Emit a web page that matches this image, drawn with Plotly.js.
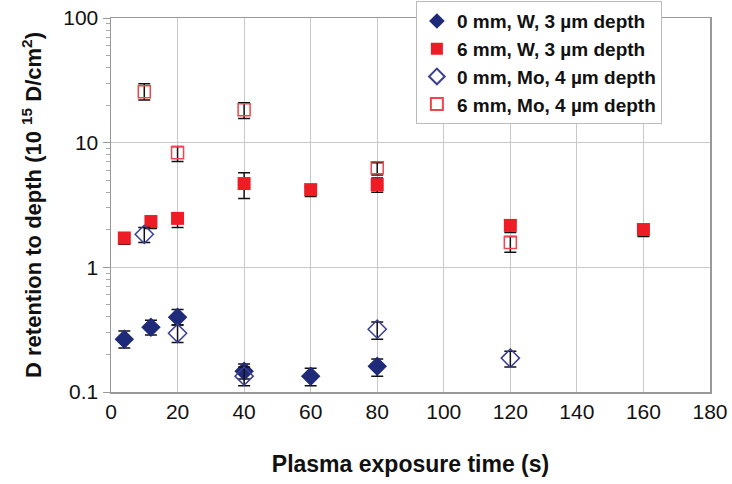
<!DOCTYPE html>
<html><head><meta charset="utf-8">
<script src="https://cdn.plot.ly/plotly-3.0.1.min.js"></script>
<style>html,body{margin:0;padding:0;background:#fff}#chart{width:732px;height:484px}</style>
</head><body><div id="chart"></div>
<script>
// 0 mm, W, 3 µm depth
const w0X = [4, 12, 20, 40, 60, 80];
const w0Y = [0.265, 0.331, 0.398, 0.147, 0.134, 0.161];
const w0Plus = [0.043, 0.046, 0.062, 0.021, 0.021, 0.023];
const w0Minus = [0.040, 0.045, 0.054, 0.020, 0.022, 0.027];
// 6 mm, W, 3 µm depth
const w6X = [4, 12, 20, 40, 60, 80, 120, 160];
const w6Y = [1.72, 2.33, 2.47, 4.7, 4.2, 4.6, 2.17, 2.01];
const w6Plus = [0.10, 0.10, 0.15, 1.05, 0.20, 0.60, 0.15, 0.10];
const w6Minus = [0.19, 0.28, 0.38, 1.13, 0.50, 0.60, 0.27, 0.24];
// 0 mm, Mo, 4 µm depth
const mo0X = [10, 20, 40, 80, 120];
const mo0Y = [1.84, 0.296, 0.134, 0.319, 0.187];
const mo0Plus = [0.25, 0.048, 0.025, 0.045, 0.025];
const mo0Minus = [0.26, 0.046, 0.022, 0.054, 0.028];
// 6 mm, Mo, 4 µm depth
const mo6X = [10, 20, 40, 80, 120];
const mo6Y = [25.6, 8.3, 18.4, 6.3, 1.58];
const mo6Plus = [4.1, 1.0, 2.5, 0.6, 0.19];
const mo6Minus = [3.6, 1.25, 2.8, 0.8, 0.26];

const names = ['0 mm, W, 3 µm depth', '6 mm, W, 3 µm depth', '0 mm, Mo, 4 µm depth', '6 mm, Mo, 4 µm depth'];
const xTickVals = [0, 20, 40, 60, 80, 100, 120, 140, 160, 180];
const yTickVals = [0.1, 1, 10, 100];
const yTickText = ['0.1', '1', '10', '100'];
const yMinorVals = [0.2, 0.3, 0.4, 0.5, 0.6, 0.7, 0.8, 0.9, 2, 3, 4, 5, 6, 7, 8, 9, 20, 30, 40, 50, 60, 70, 80, 90];

const NAVY = '#1f2a78', RED = '#ee1c25';
function err(plus, minus) {
  return {type: 'data', symmetric: false, array: plus, arrayminus: minus,
          color: '#111', thickness: 1.5, width: 6};
}
const traces = [
  {x: w0X, y: w0Y, name: names[0], type: 'scatter', mode: 'markers',
   marker: {symbol: 'diamond', size: 15, color: NAVY, line: {width: 0}},
   error_y: err(w0Plus, w0Minus)},
  {x: w6X, y: w6Y, name: names[1], type: 'scatter', mode: 'markers',
   marker: {symbol: 'square', size: 13, color: RED, line: {width: 0}},
   error_y: err(w6Plus, w6Minus)},
  {x: mo0X, y: mo0Y, name: names[2], type: 'scatter', mode: 'markers',
   marker: {symbol: 'diamond-open', size: 14, color: '#3a3f8f', line: {width: 1.5}},
   error_y: err(mo0Plus, mo0Minus)},
  {x: mo6X, y: mo6Y, name: names[3], type: 'scatter', mode: 'markers',
   marker: {symbol: 'square-open', size: 12, color: '#f0454c', line: {width: 1.5}},
   error_y: err(mo6Plus, mo6Minus)}
];
const FONT = 'Liberation Sans, Arial, sans-serif';
const layout = {
  width: 732, height: 484,
  margin: {l: 111, r: 22, t: 18, b: 92, autoexpand: false},
  paper_bgcolor: '#fff', plot_bgcolor: '#fff',
  font: {family: FONT, color: '#111'},
  showlegend: true,
  legend: {x: 0.509, y: 1.045, xanchor: 'left', yanchor: 'top',
           bgcolor: '#fff', bordercolor: '#bbb', borderwidth: 1,
           font: {family: FONT, size: 19, color: '#111', weight: 'bold'},
           tracegroupgap: 0, itemsizing: 'constant'},
  xaxis: {range: [0, 180], tickvals: xTickVals, ticktext: xTickVals.map(String),
          showgrid: true, gridcolor: '#c8c8c8', gridwidth: 1,
          showline: true, linecolor: '#999', linewidth: 1.5, mirror: true,
          ticks: '', zeroline: false,
          tickfont: {family: FONT, size: 21, color: '#111'},
          title: {text: 'Plasma exposure time (s)', standoff: 34,
                  font: {family: FONT, size: 23, color: '#111', weight: 'bold'}}},
  yaxis: {type: 'log', range: [-1, 2], tickvals: yTickVals, ticktext: yTickText,
          showgrid: true, gridcolor: '#c8c8c8', gridwidth: 1,
          showline: true, linecolor: '#999', linewidth: 1.5, mirror: true,
          ticks: 'outside', ticklen: 7, tickcolor: '#999',
          minor: {tickvals: yMinorVals, ticks: 'outside', ticklen: 4, tickcolor: '#aaa', showgrid: false},
          zeroline: false,
          tickfont: {family: FONT, size: 21, color: '#111'},
          title: {text: 'D retention to depth (10 <sup>15</sup> D/cm<sup>2</sup>)', standoff: 15,
                  font: {family: FONT, size: 22, color: '#111', weight: 'bold'}}}
};
Plotly.newPlot('chart', traces, layout, {displayModeBar: false, staticPlot: true});
</script></body></html>
